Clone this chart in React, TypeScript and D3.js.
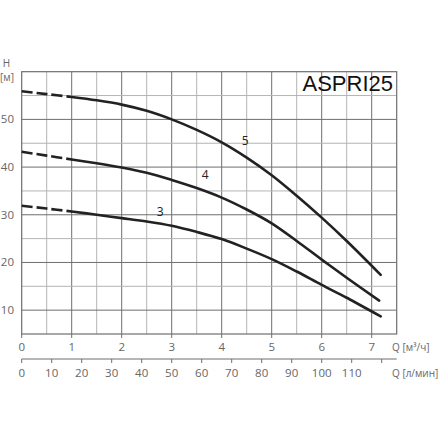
import React, { useEffect, useRef } from 'react';
import * as d3 from 'd3';

// flow, m3/h
const qValues = [0, 0.5, 1, 1.5, 2, 2.5, 3, 3.5, 4, 4.5, 5, 5.5, 6, 6.5];
const curve5 = [55.9, 55.3, 54.7, 54.0, 53.1, 51.8, 50.0, 47.8, 45.2, 42.0, 38.3, 34.0, 29.4, 24.5];
const curve4 = [43.2, 42.4, 41.6, 40.8, 39.9, 38.8, 37.3, 35.6, 33.6, 31.1, 28.2, 24.5, 20.6, 16.8];
const curve3 = [31.9, 31.3, 30.7, 30.0, 29.3, 28.6, 27.7, 26.4, 24.9, 22.9, 20.7, 18.1, 15.3, 12.6];
const endPoints = [[7.18, 17.4], [7.15, 12.0], [7.18, 8.7]];
const curveNames = ['5', '4', '3'];
const labelPos = [[4.4, 44.6], [3.6, 37.6], [2.7, 29.8]];

const qTicks = [0, 1, 2, 3, 4, 5, 6, 7];
const hTicks = [10, 20, 30, 40, 50];
const lminTicks = [0, 10, 20, 30, 40, 50, 60, 70, 80, 90, 100, 110, 120];
const lminLabels = [0, 10, 20, 30, 40, 50, 60, 70, 80, 90, 100, 110];

export default function App() {
  const ref = useRef<SVGSVGElement>(null);

  useEffect(() => {
    const svg = d3.select(ref.current);
    svg.selectAll('*').remove();

    const x = d3.scaleLinear().domain([0, 7.5]).range([21.7, 396.7]);
    const y = d3.scaleLinear().domain([5, 60]).range([334, 71.7]);
    const font = '"Open Sans", sans-serif';

    // grid
    const g = svg.append('g');
    d3.range(0.5, 7.5, 0.5).forEach((q) => {
      const major = Math.abs(q - Math.round(q)) < 0.01;
      g.append('line')
        .attr('x1', x(q)).attr('x2', x(q))
        .attr('y1', y(5)).attr('y2', y(60))
        .attr('stroke', major ? '#6e6e6e' : '#b4b4b4')
        .attr('stroke-width', 1);
    });
    d3.range(10, 60, 5).forEach((h) => {
      const major = h % 10 === 0;
      g.append('line')
        .attr('x1', x(0)).attr('x2', x(7.5))
        .attr('y1', y(h)).attr('y2', y(h))
        .attr('stroke', major ? '#6e6e6e' : '#b4b4b4')
        .attr('stroke-width', 1);
    });
    g.append('rect')
      .attr('x', x(0)).attr('y', y(60))
      .attr('width', x(7.5) - x(0)).attr('height', y(5) - y(60))
      .attr('fill', 'none').attr('stroke', '#6e6e6e').attr('stroke-width', 1.2);

    // bottom ticks (m3/h)
    qTicks.forEach((q) => {
      g.append('line')
        .attr('x1', x(q)).attr('x2', x(q))
        .attr('y1', y(5)).attr('y2', y(5) + 4)
        .attr('stroke', '#6e6e6e');
      g.append('text')
        .attr('x', x(q)).attr('y', 351)
        .attr('text-anchor', 'middle')
        .attr('font-family', font).attr('font-size', 11.5)
        .attr('fill', '#666')
        .text(q);
    });
    g.append('text')
      .attr('x', 392).attr('y', 351)
      .attr('font-family', font).attr('font-size', 10)
      .attr('fill', '#666')
      .text('Q [м³/ч]');

    // second axis (l/min)
    const ax2 = 359;
    g.append('line')
      .attr('x1', x(0)).attr('x2', x(7.5))
      .attr('y1', ax2).attr('y2', ax2)
      .attr('stroke', '#6e6e6e').attr('stroke-width', 1.2);
    lminTicks.forEach((l) => {
      const q = l * 0.06;
      g.append('line')
        .attr('x1', x(q)).attr('x2', x(q))
        .attr('y1', ax2).attr('y2', ax2 + 4)
        .attr('stroke', '#6e6e6e');
    });
    lminLabels.forEach((l) => {
      g.append('text')
        .attr('x', x(l * 0.06)).attr('y', 377)
        .attr('text-anchor', 'middle')
        .attr('font-family', font).attr('font-size', 11.5)
        .attr('fill', '#666')
        .text(l);
    });
    g.append('text')
      .attr('x', 392).attr('y', 377)
      .attr('font-family', font).attr('font-size', 10)
      .attr('fill', '#666')
      .text('Q [л/мин]');

    // y labels
    hTicks.forEach((h) => {
      g.append('text')
        .attr('x', 14).attr('y', y(h) + 4)
        .attr('text-anchor', 'end')
        .attr('font-family', font).attr('font-size', 11.5)
        .attr('fill', '#666')
        .text(h);
    });
    g.append('text')
      .attr('x', 6.5).attr('y', 67)
      .attr('text-anchor', 'middle')
      .attr('font-family', font).attr('font-size', 10)
      .attr('fill', '#666')
      .text('H');
    g.append('text')
      .attr('x', 7).attr('y', 81)
      .attr('text-anchor', 'middle')
      .attr('font-family', font).attr('font-size', 10)
      .attr('fill', '#666')
      .text('[м]');

    // title
    svg.append('text')
      .attr('x', 393).attr('y', 91)
      .attr('text-anchor', 'end')
      .attr('font-family', '"Liberation Sans", Arial, sans-serif')
      .attr('font-size', 22)
      .attr('fill', '#111')
      .text('ASPRI25');

    // curves
    const line = d3.line<[number, number]>()
      .x((d) => x(d[0]))
      .y((d) => y(d[1]))
      .curve(d3.curveCatmullRom);

    [curve5, curve4, curve3].forEach((vals, i) => {
      const pts: [number, number][] = qValues.map((q, j) => [q, vals[j]]);
      pts.push(endPoints[i] as [number, number]);
      const dashed = pts.filter((p) => p[0] <= 1);
      const solid = pts.filter((p) => p[0] >= 1);
      svg.append('path')
        .attr('d', line(dashed))
        .attr('fill', 'none')
        .attr('stroke', '#222')
        .attr('stroke-width', 2.6)
        .attr('stroke-dasharray', '11,4');
      svg.append('path')
        .attr('d', line(solid))
        .attr('fill', 'none')
        .attr('stroke', '#222')
        .attr('stroke-width', 2.6)
        .attr('stroke-linecap', 'round');
      svg.append('text')
        .attr('x', x(labelPos[i][0])).attr('y', y(labelPos[i][1]))
        .attr('font-family', font).attr('font-size', 12)
        .attr('fill', '#222')
        .text(curveNames[i]);
    });
  }, []);

  return (
    <svg
      ref={ref}
      width={440}
      height={440}
      style={{ position: 'absolute', left: 0, top: 0, background: '#fff' }}
    />
  );
}
